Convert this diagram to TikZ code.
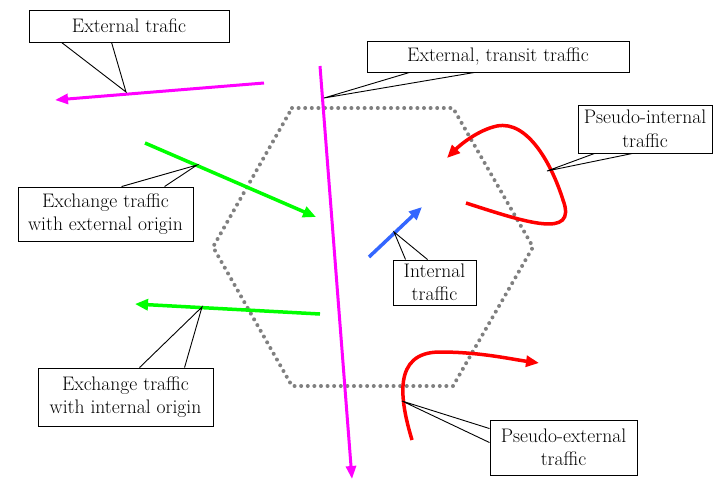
\documentclass[tikz,border=0pt]{standalone}
\usetikzlibrary{arrows.meta,calc}
\definecolor{magentaline}{RGB}{255,0,255}
\definecolor{greenline}{RGB}{0,255,0}
\definecolor{redline}{RGB}{255,0,0}
\definecolor{blueline}{RGB}{51,102,255}
\definecolor{hexgray}{RGB}{128,128,128}
\tikzset{
  labelbox/.style={draw=black, fill=white, line width=0.9pt, inner sep=0pt,
    align=center, font=\rmfamily\fontsize{19.6}{23.5}\selectfont},
  pointer/.style={draw=black, line width=0.9pt, line join=miter},
  flow/.style={line width=3.5pt, -{Triangle[length=13pt,width=11pt]}},
  thinflow/.style={line width=3pt, -{Triangle[length=13pt,width=10pt]}},
  zoneborder/.style={draw=hexgray, line width=4pt, line cap=round,
    dash pattern=on 0pt off 6.6pt}
}
\begin{document}
\begin{tikzpicture}[x=1pt,y=-1pt]
\useasboundingbox (0,0) rectangle (715,480);

% zone boundary (dotted hexagon)
\coordinate (h1) at (292,108);
\coordinate (h2) at (453,108);
\coordinate (h3) at (533,247);
\coordinate (h4) at (453,386);
\coordinate (h5) at (292,386);
\coordinate (h6) at (213,247);
\draw[zoneborder] (h1) -- (h2) -- (h3) -- (h4) -- (h5) -- (h6) -- cycle;

% flows
\coordinate (extA) at (264,83);
\coordinate (extB) at (55,100);
\draw[thinflow, magentaline] (extA) -- (extB);

\coordinate (trA) at (320,66);
\coordinate (trB) at (352,479);
\draw[thinflow, magentaline] (trA) -- (trB);

\coordinate (exoA) at (145,143);
\coordinate (exoB) at (316,217);
\draw[flow, greenline] (exoA) -- (exoB);

\coordinate (inoA) at (320,314);
\coordinate (inoB) at (135,304);
\draw[flow, greenline] (inoA) -- (inoB);

\coordinate (intA) at (369,257);
\coordinate (intB) at (422,207);
\draw[flow, blueline] (intA) -- (intB);

\coordinate (piA) at (466,203);
\coordinate (piB) at (447,158);
\draw[flow, redline] (piA) .. controls (525,222) and (578,240) .. (563,200)
  .. controls (552,165) and (528,120) .. (497,126)
  .. controls (478,130) and (460,145) .. (piB);

\coordinate (peA) at (412,440);
\coordinate (peB) at (539,363);
\draw[flow, redline] (peA) .. controls (400,400) and (392,352) .. (440,352)
  .. controls (480,352) and (510,359) .. (peB);

% labels
\node[labelbox, minimum width=200pt, minimum height=32pt] (lExt) at (129,26) {External trafic};
\node[labelbox, minimum width=262pt, minimum height=31pt] (lTr) at (498,56.5) {External, transit traffic};
\node[labelbox, minimum width=134pt, minimum height=48pt] (lPi) at (645,129) {Pseudo-internal\\traffic};
\node[labelbox, minimum width=175pt, minimum height=54pt] (lExo) at (105.5,214) {Exchange traffic\\with external origin};
\node[labelbox, minimum width=83pt, minimum height=45pt] (lInt) at (434.5,282.5) {Internal\\traffic};
\node[labelbox, minimum width=175pt, minimum height=58pt] (lIno) at (125.5,397) {Exchange traffic\\with internal origin};
\node[labelbox, minimum width=147pt, minimum height=55pt] (lPe) at (563.5,447.5) {Pseudo-external\\traffic};

% callout pointers
\coordinate (tExt) at (126,92);
\coordinate (tTr) at (324,98);
\coordinate (tPi) at (547,171);
\coordinate (tExo) at (197,165);
\coordinate (tInt) at (394,232);
\coordinate (tIno) at (202,307);
\coordinate (tPe) at (402,401);
\draw[pointer] ($(lExt.south west)+(33,0)$) -- (tExt) -- ($(lExt.south west)+(83,0)$);
\draw[pointer] ($(lTr.south west)+(43,0)$) -- (tTr) -- ($(lTr.south west)+(108,0)$);
\draw[pointer] ($(lPi.south west)+(17,0)$) -- (tPi) -- ($(lPi.south west)+(55,0)$);
\draw[pointer] ($(lExo.north west)+(104,0)$) -- (tExo) -- ($(lExo.north west)+(147,0)$);
\draw[pointer] ($(lInt.north west)+(13,0)$) -- (tInt) -- ($(lInt.north west)+(35,0)$);
\draw[pointer] ($(lIno.north west)+(102,0)$) -- (tIno) -- ($(lIno.north west)+(147,0)$);
\draw[pointer] ($(lPe.north west)+(0,9)$) -- (tPe) -- ($(lPe.north west)+(0,23)$);
\end{tikzpicture}
\end{document}
